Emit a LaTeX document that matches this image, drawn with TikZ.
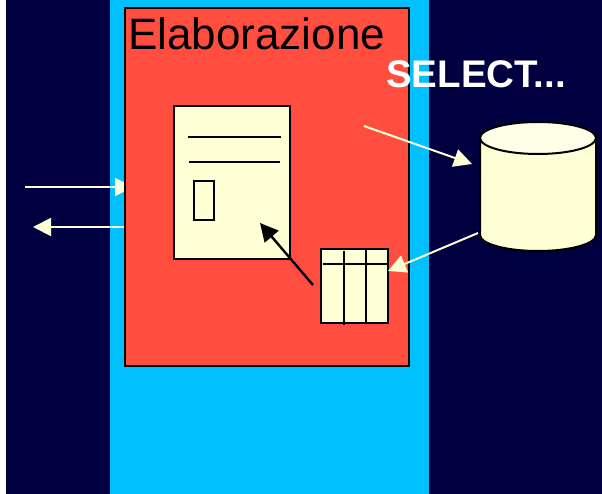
\documentclass[tikz,border=0pt]{standalone}
\usepackage{fontspec}
\setmainfont{Liberation Sans}
\usetikzlibrary{arrows.meta}
\definecolor{navy}{RGB}{0,0,64}
\definecolor{sky}{RGB}{0,192,255}
\definecolor{redbox}{RGB}{255,77,64}
\definecolor{cream}{RGB}{255,255,214}
\definecolor{creamtop}{RGB}{255,255,232}
\tikzset{
  box/.style={draw=black,line width=2pt,fill=cream,inner sep=0pt,outer sep=0pt,anchor=north west},
  inkline/.style={draw=black,line width=1.8pt},
  pale/.style={draw=cream,line width=2pt,-{Triangle[length=18pt,width=18pt,fill=cream]}},
  dark/.style={draw=black,line width=2.4pt,-{Triangle[length=18pt,width=18pt,fill=black]}}
}
\begin{document}
\begin{tikzpicture}[x=1pt,y=-1pt]
\useasboundingbox (0,0) rectangle (602,494);
\fill[white] (0,0) rectangle (602,494);
\fill[navy] (6,0) rectangle (602,494);
\fill[sky] (110,0) rectangle (428.5,494);
\coordinate (inS) at (25,187); \coordinate (inE) at (133,187);
\draw[pale] (inS) -- (inE);
\node[box,fill=redbox,minimum width=284pt,minimum height=358pt] (proc) at (125,8) {};
\node[anchor=base west,inner sep=0pt,font=\fontsize{44}{44}\selectfont] (title) at (128,50) {Elaborazione};
\node[box,minimum width=116pt,minimum height=153pt] (form) at (174,106) {};
\node[box,line width=1.6pt,minimum width=20pt,minimum height=39pt] (field) at (194,181) {};
\coordinate (l1a) at (188,137); \coordinate (l1b) at (281,137);
\coordinate (l2a) at (189,162); \coordinate (l2b) at (280,162);
\draw[inkline] (l1a) -- (l1b);
\draw[inkline] (l2a) -- (l2b);
\node[box,minimum width=67pt,minimum height=74pt] (table) at (321,249) {};
\coordinate (h1) at (323,264); \coordinate (h2) at (388,264);
\coordinate (v1a) at (344,251); \coordinate (v1b) at (344,325);
\coordinate (v2a) at (366,249); \coordinate (v2b) at (366,323);
\draw[inkline] (h1) -- (h2);
\draw[inkline] (v1a) -- (v1b);
\draw[inkline] (v2a) -- (v2b);
% database cylinder
\coordinate (dbL) at (480,138);
\coordinate (dbC) at (538,138);
\draw[draw=black,line width=2pt,fill=cream] (dbL) -- (480,235)
  arc[start angle=180,end angle=360,x radius=58pt,y radius=16pt] -- (596,138) -- cycle;
\draw[draw=black,line width=2pt,fill=creamtop] (dbC) ellipse [x radius=58pt,y radius=16pt];
\node[anchor=base west,inner sep=0pt,text=white,font=\bfseries\fontsize{38.5}{38.5}\selectfont] (select) at (386,88) {SELECT...};
\coordinate (outS) at (124,227); \coordinate (outE) at (33,227);
\coordinate (qS) at (364,126); \coordinate (qE) at (472,164);
\coordinate (rS) at (478,233); \coordinate (rE) at (388,271);
\coordinate (fS) at (313,285); \coordinate (fE) at (260,223);
\draw[pale] (outS) -- (outE);
\draw[pale] (qS) -- (qE);
\draw[pale] (rS) -- (rE);
\draw[dark] (fS) -- (fE);
\end{tikzpicture}
\end{document}
